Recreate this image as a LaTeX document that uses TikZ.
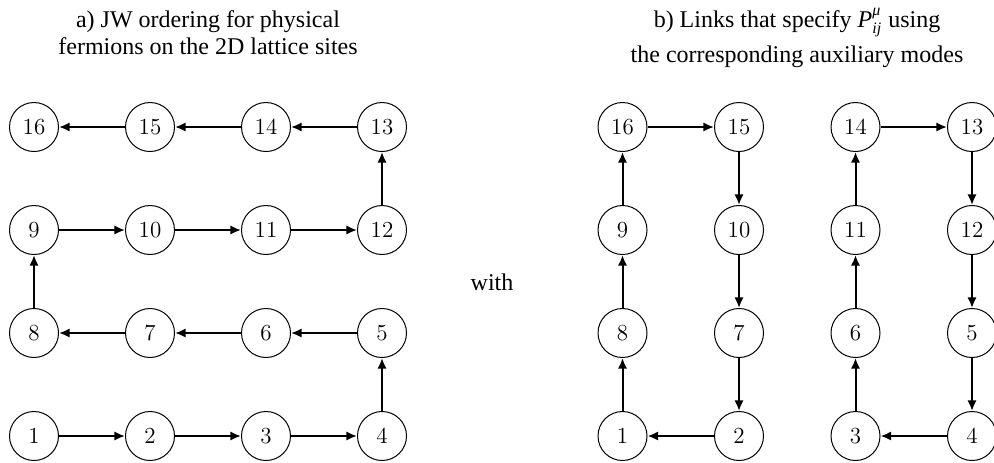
\documentclass[tikz,border=0pt]{standalone}
\usepackage{amsmath}
\usepackage{fontspec}
\newfontfamily\tnr{Liberation Serif}
\usetikzlibrary{arrows.meta}
\begin{document}
\begin{tikzpicture}[x=0.5pt,y=-0.5pt,
  site/.style={circle,draw,line width=0.5pt,minimum size=24.5pt,inner sep=0pt,font=\fontsize{11.5}{13}\selectfont},
  link/.style={line width=1pt,-{Latex[length=5.3pt,width=4.6pt]}},
  ttl/.style={anchor=base,font=\tnr\fontsize{12}{13.5}\selectfont,inner sep=0pt}]
\useasboundingbox (0,0) rectangle (994,462);
% sites: number / column index / row y
\foreach \n/\c/\r in {1/0/436,2/1/436,3/2/436,4/3/436,
                      8/0/333,7/1/333,6/2/333,5/3/333,
                      9/0/230,10/1/230,11/2/230,12/3/230,
                      16/0/127,15/1/127,14/2/127,13/3/127}{
  \node[site] (a\n) at ({34+116*\c},\r) {\n};
  \node[site] (b\n) at ({622.5+116.5*\c},\r) {\n};
}
% panel a: JW ordering
\foreach \s/\t in {1/2,2/3,3/4,4/5,5/6,6/7,7/8,8/9,9/10,10/11,11/12,12/13,13/14,14/15,15/16}
  \draw[link] (a\s) -- (a\t);
% panel b: links
\foreach \s/\t in {1/8,8/9,9/16,16/15,15/10,10/7,7/2,2/1,
                   3/6,6/11,11/14,14/13,13/12,12/5,5/4,4/3}
  \draw[link] (b\s) -- (b\t);
% titles
\node[ttl] (ta1) at (208,27) {a) JW ordering for physical};
\node[ttl] (ta2) at (208,54) {fermions on the 2D lattice sites};
\node[ttl] (tb1) at (797,27) {b) Links that specify $\text{\itshape P}^{\text{\itshape μ}}_{\text{\itshape ij}}$ using};
\node[ttl] (tb2) at (797,62) {the corresponding auxiliary modes};
\node[ttl] (with) at (492,290) {with};
\end{tikzpicture}
\end{document}
